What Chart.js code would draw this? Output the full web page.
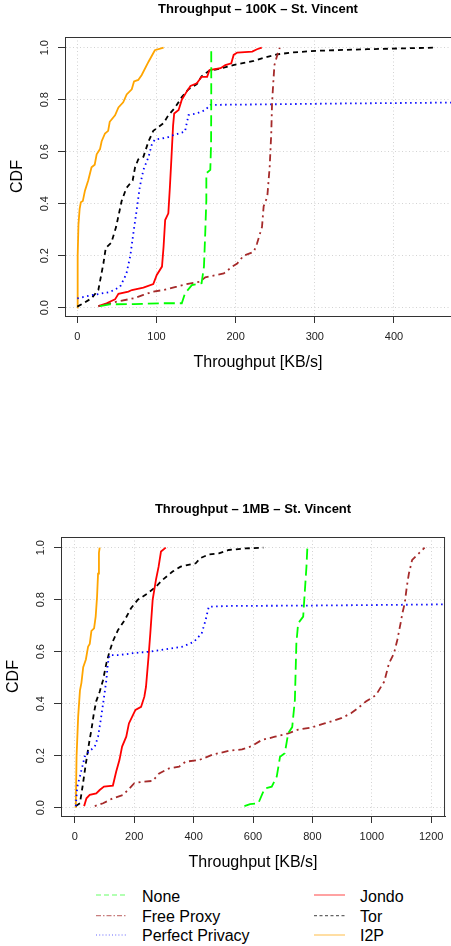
<!DOCTYPE html>
<html>
<head>
	<meta charset="utf-8">
	<title>Throughput CDF - St. Vincent</title>
	<script src="https://cdn.jsdelivr.net/npm/chart.js@4.4.0/dist/chart.umd.min.js"></script>
	<style>
		html, body { margin: 0; padding: 0; background: #fff; overflow: hidden; }
		body { width: 451px; height: 946px; position: relative; font-family: "Liberation Sans", Arial, sans-serif; }
		canvas { position: absolute; left: 0; }
		#c100k { top: 0; }
		#c1mb { top: 500px; }
		#legend { position: absolute; left: 0; top: 880px; }
	</style>
</head>
<body>
	<canvas id="c100k" width="451" height="380"></canvas>
	<canvas id="c1mb" width="451" height="380"></canvas>

	<!--legend-->
	<svg id="legend" width="451" height="66" font-family="Liberation Sans, Arial, sans-serif" font-size="16">
		<g stroke-width="1.2" opacity="0.6">
			<line x1="96" y1="15" x2="127" y2="15" stroke="#00ff00" stroke-dasharray="5,3"/>
			<line x1="96" y1="35.7" x2="127" y2="35.7" stroke="#a52a2a" stroke-dasharray="5,2,1.5,2"/>
			<line x1="96" y1="55" x2="127" y2="55" stroke="#0000ff" stroke-dasharray="1,2.2"/>
			<line x1="314" y1="15" x2="345" y2="15" stroke="#ff0000"/>
			<line x1="314" y1="35.7" x2="345" y2="35.7" stroke="#000000" stroke-dasharray="3,2.5"/>
			<line x1="314" y1="55" x2="345" y2="55" stroke="#ffa500"/>
		</g>
		<text x="142" y="21.7">None</text>
		<text x="142" y="42.3">Free Proxy</text>
		<text x="142" y="61.2">Perfect Privacy</text>
		<text x="360" y="21.7">Jondo</text>
		<text x="360" y="42.3">Tor</text>
		<text x="360" y="61.2">I2P</text>
	</svg>

	<script>
		var seriesNames = ['None', 'Free Proxy', 'Perfect Privacy', 'Jondo', 'Tor', 'I2P'];
		var yTicks = [0, 0.2, 0.4, 0.6, 0.8, 1.0];
		var xTicks100k = [0, 100, 200, 300, 400];
		var xTicks1mb = [0, 200, 400, 600, 800, 1000, 1200];

		// 100K transfer, points are [throughput KB/s, CDF]
		var none100k = [[28.7,0.006],[41,0.013],[71,0.014],[109,0.017],[132,0.017],[136,0.055],[144.7,0.087],[157,0.094],[160,0.158],[161.6,0.286],[163,0.414],[163,0.517],[168,0.53],[169,0.632],[169.2,0.8],[169.2,1.0]];
		var free100k = [[26.6,0.006],[49.8,0.023],[71,0.036],[83.5,0.049],[96,0.062],[109,0.068],[125.7,0.081],[138,0.091],[155,0.1],[161.6,0.117],[176,0.126],[185,0.132],[195.7,0.158],[202,0.17],[210,0.2],[223,0.215],[227,0.247],[233.3,0.31],[235.4,0.39],[240,0.427],[243,0.542],[245,0.67],[246,0.786],[247.5,0.863],[249,0.933],[252,0.965],[255.7,1.0]];
		var pp100k = [[0,0.036],[20,0.049],[41,0.06],[54,0.08],[62,0.13],[67,0.2],[71,0.29],[75,0.375],[79,0.465],[83.5,0.53],[90,0.58],[94,0.626],[98,0.647],[113,0.654],[121.5,0.664],[136,0.677],[140.5,0.741],[151,0.747],[161.6,0.76],[168,0.78],[240,0.782],[324,0.785],[480,0.789]];
		var jondo100k = [[26.6,0.006],[37,0.017],[47.7,0.032],[52,0.053],[64.6,0.062],[69,0.068],[83.5,0.077],[96,0.091],[100.4,0.126],[107,0.158],[109,0.235],[111,0.337],[115,0.363],[117,0.465],[119,0.58],[121,0.70],[122.4,0.747],[128,0.76],[132,0.80],[138,0.83],[143,0.853],[151,0.863],[157,0.888],[164,0.888],[167,0.914],[181,0.921],[187,0.933],[194.5,0.94],[197.5,0.972],[202,0.981],[221,0.985],[227,0.994],[233,1.0]];
		var tor100k = [[0,0.004],[7.6,0.017],[18,0.036],[26.6,0.068],[33,0.17],[36,0.23],[43,0.25],[49,0.31],[56,0.41],[62,0.46],[70,0.49],[73,0.54],[77,0.57],[83.5,0.58],[90,0.64],[96,0.68],[109,0.71],[115,0.74],[123.6,0.77],[132,0.81],[140.5,0.84],[151,0.86],[157,0.89],[166,0.91],[180.6,0.92],[197,0.933],[223,0.949],[240,0.965],[252,0.974],[273,0.982],[303,0.988],[366,0.994],[408,0.997],[451,1.0]];
		var i2p100k = [[0,0],[0.5,0.2],[1.5,0.32],[3,0.38],[4.5,0.405],[7,0.41],[9.7,0.45],[13.9,0.49],[18,0.54],[22,0.55],[24.5,0.59],[28.7,0.61],[30.8,0.64],[35,0.67],[39,0.68],[41,0.715],[47.7,0.74],[52,0.77],[58,0.79],[62.4,0.82],[68.8,0.84],[71.7,0.87],[77,0.876],[81.4,0.895],[90,0.946],[98,0.99],[109,1.0]];

		// 1MB transfer
		var none1mb = [[571,0.006],[590,0.014],[618,0.017],[632,0.055],[640,0.074],[663,0.081],[680,0.12],[691,0.196],[707,0.209],[718.5,0.286],[732,0.31],[741,0.414],[746,0.632],[752,0.709],[769,0.735],[774,0.824],[780,0.927],[783,1.0]];
		var free1mb = [[67,0.006],[95,0.017],[128,0.036],[162,0.049],[184,0.074],[200,0.094],[228,0.1],[262,0.103],[284,0.132],[317,0.151],[351,0.158],[373,0.177],[418,0.183],[462,0.203],[518,0.219],[563,0.224],[596,0.237],[629,0.26],[674,0.273],[718.5,0.286],[752,0.3],[796,0.308],[841,0.324],[897,0.344],[930,0.363],[952,0.382],[980,0.408],[1014,0.433],[1042,0.485],[1058,0.555],[1075,0.594],[1086,0.645],[1097,0.709],[1103,0.747],[1111,0.786],[1118,0.85],[1125,0.9],[1136,0.953],[1153,0.972],[1178,1.0]];
		var pp1mb = [[3,0.006],[7.8,0.08],[17,0.12],[33,0.196],[41,0.209],[67,0.235],[78,0.273],[87,0.337],[95,0.40],[106,0.49],[111,0.555],[117,0.587],[150,0.587],[195,0.594],[251,0.6],[306,0.609],[362,0.619],[401,0.638],[427,0.67],[440,0.72],[451,0.773],[529,0.776],[752,0.777],[975,0.779],[1260,0.782]];
		var jondo1mb = [[31,0.006],[39,0.036],[50,0.049],[72,0.055],[83.5,0.068],[98,0.081],[128,0.085],[139,0.138],[150,0.183],[159,0.235],[173,0.273],[182,0.324],[193,0.35],[204,0.376],[223,0.388],[234,0.427],[239.5,0.465],[248,0.58],[254,0.67],[262,0.8],[273,0.876],[282,0.927],[290,0.985],[306,1.0]];
		var tor1mb = [[3,0.006],[17,0.017],[25.6,0.08],[37,0.17],[48,0.25],[55.7,0.3],[63.5,0.36],[72,0.41],[83.5,0.446],[94.7,0.49],[106,0.555],[115,0.594],[128,0.64],[145,0.683],[167,0.72],[189,0.767],[212,0.8],[245,0.824],[273,0.85],[295,0.876],[329,0.908],[356,0.927],[407,0.94],[423,0.96],[451,0.974],[485,0.978],[518,0.991],[574,0.997],[635,1.0]];
		var i2p1mb = [[3,0],[5.6,0.196],[11,0.35],[17,0.45],[22,0.48],[28,0.54],[37,0.57],[44.6,0.62],[50,0.63],[55.7,0.68],[64.6,0.69],[70,0.735],[74.6,0.81],[78,0.90],[81,0.98],[83.5,1.0]];

		var fontFamily = '"Liberation Sans", Arial, Helvetica, sans-serif';
		var colors = ['#00ff00', '#a52a2a', '#0000ff', '#ff0000', '#000000', '#ffa500'];
		var dashes = [[11, 5], [2, 4, 7, 4], [1.5, 3.5], [], [5, 4], []];

		function makeDatasets(list) {
			return list.map(function(pts, i) {
				return {
					label: seriesNames[i],
					data: pts.map(function(p) { return {x: p[0], y: p[1]}; }),
					showLine: true,
					borderColor: colors[i],
					backgroundColor: colors[i],
					borderWidth: 1.8,
					borderDash: dashes[i],
					pointRadius: 0,
					tension: 0,
					fill: false
				};
			});
		}

		// top and right side of the plot box
		var boxPlugin = {
			id: 'box',
			afterDatasetsDraw: function(chart, args, opts) {
				var a = chart.chartArea;
				var ctx = chart.ctx;
				ctx.save();
				ctx.strokeStyle = '#333';
				ctx.lineWidth = 1;
				ctx.beginPath();
				ctx.moveTo(a.left, a.top + 0.5);
				ctx.lineTo(a.right, a.top + 0.5);
				if (opts.right) {
					ctx.moveTo(a.right - 0.5, a.top);
					ctx.lineTo(a.right - 0.5, a.bottom + 1);
				}
				ctx.stroke();
				ctx.restore();
			}
		};

		// grid dots live in border.dash in chart.js v4
		var gridOpts = { color: '#d3d3d3', lineWidth: 1, tickLength: 7, tickColor: '#333', tickBorderDash: [], tickWidth: 1 };
		var borderOpts = { display: true, color: '#333', width: 1, dash: [1, 2.5] };

		function makeChart(id, title, datasets, xMin, xMax, xTicks, yWidth, padRight, cdfPad, drawRight) {
			var ctx = document.getElementById(id).getContext('2d');
			return new Chart(ctx, {
				type: 'scatter',
				data: { datasets: makeDatasets(datasets) },
				options: {
					responsive: false,
					animation: false,
					devicePixelRatio: 1,
					layout: { padding: { left: 0, right: padRight, top: 0, bottom: 0 } },
					plugins: {
						legend: { display: false },
						tooltip: { enabled: false },
						title: {
							display: true,
							text: title,
							fullSize: false,
							color: '#000',
							font: { family: fontFamily, size: 13, weight: 'bold' },
							padding: { top: 2, bottom: 19.4 }
						},
						box: { right: drawRight }
					},
					scales: {
						x: {
							type: 'linear',
							min: xMin,
							max: xMax,
							afterBuildTicks: function(s) { s.ticks = xTicks.map(function(v) { return {value: v}; }); },
							afterFit: function(s) { s.height = 64; },
							grid: gridOpts,
							border: borderOpts,
							ticks: {
								color: '#222',
								font: { family: fontFamily, size: 11 },
								padding: 7.4,
								maxRotation: 0,
								autoSkip: false,
								callback: function(v) { return String(v); }
							},
							title: {
								display: true,
								text: 'Throughput [KB/s]',
								color: '#000',
								font: { family: fontFamily, size: 16 },
								padding: { top: 0, bottom: 7.7 }
							}
						},
						y: {
							type: 'linear',
							min: -0.032,
							max: 1.041,
							afterBuildTicks: function(s) { s.ticks = yTicks.map(function(v) { return {value: v}; }); },
							afterFit: function(s) { s.width = yWidth; },
							grid: gridOpts,
							border: borderOpts,
							ticks: {
								color: '#222',
								font: { family: fontFamily, size: 11 },
								minRotation: 90,
								maxRotation: 90,
								crossAlign: 'center',
								padding: 5,
								autoSkip: false,
								callback: function(v) { return v.toFixed(1); }
							},
							title: {
								display: true,
								text: 'CDF',
								color: '#000',
								font: { family: fontFamily, size: 16 },
								padding: { top: cdfPad, bottom: 0 }
							}
						}
					}
				},
				plugins: [boxPlugin]
			});
		}

		makeChart('c100k', 'Throughput \u2013 100K \u2013 St. Vincent',
			[none100k, free100k, pp100k, jondo100k, tor100k, i2p100k],
			-15.5, 472, xTicks100k, 65, 0, 8.4, false);

		makeChart('c1mb', 'Throughput \u2013 1MB \u2013 St. Vincent',
			[none1mb, free1mb, pp1mb, jondo1mb, tor1mb, i2p1mb],
			-46.8, 1246.8, xTicks1mb, 61, 3, 4.4, true);
	</script>
</body>
</html>
